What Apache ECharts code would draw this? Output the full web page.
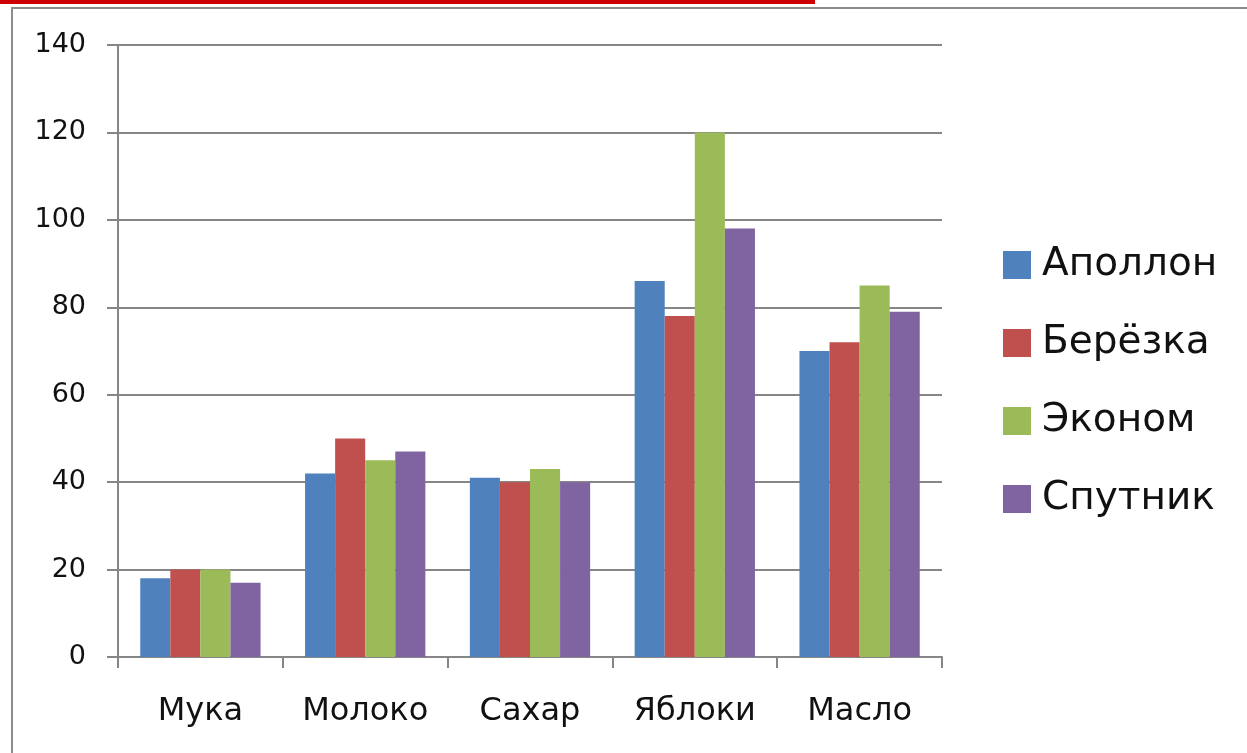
<!DOCTYPE html>
<html>
<head>
<meta charset="utf-8">
<script src="https://cdn.jsdelivr.net/npm/echarts@6/dist/echarts.min.js"></script>
<style>
  html, body { margin: 0; padding: 0; background: #ffffff; }
  #wrap { position: relative; width: 1247px; height: 753px; overflow: hidden; background: #fff; }
  #chart { position: absolute; left: 0; top: 0; width: 1247px; height: 753px; }
  #redbar { position: absolute; left: 0; top: 0; width: 815px; height: 4px; background: #cc0000; }
  #frame { position: absolute; left: 11px; top: 7px; width: 1240px; height: 760px;
           border-left: 2px solid #8c8c8c; border-top: 2px solid #8c8c8c; pointer-events: none; }
</style>
</head>
<body>
<div id="wrap">
  <div id="chart"></div>
  <div id="frame"></div>
  <div id="redbar"></div>
</div>
<script>
const categories = ['Мука', 'Молоко', 'Сахар', 'Яблоки', 'Масло'];
const seriesNames = ['Аполлон', 'Берёзка', 'Эконом', 'Спутник'];
const apollon = [18, 42, 41, 86, 70];
const berezka = [20, 50, 40, 78, 72];
const ekonom  = [20, 45, 43, 120, 85];
const sputnik = [17, 47, 40, 98, 79];
const colors = ['#4F81BD', '#C0504D', '#9BBB59', '#8064A2'];
const yTicks = { min: 0, max: 140, interval: 20 };

const values = [apollon, berezka, ekonom, sputnik];
const chart = echarts.init(document.getElementById('chart'), null, { renderer: 'canvas' });
const gray = '#868686';

chart.setOption({
  animation: false,
  backgroundColor: 'transparent',
  color: colors,
  grid: { left: 118, right: 305, top: 45, bottom: 96, containLabel: false },
  legend: {
    orient: 'vertical',
    left: 998,
    top: 240,
    itemWidth: 28,
    itemHeight: 28,
    itemGap: 38,
    icon: 'rect',
    textStyle: { fontFamily: 'DejaVu Sans', fontSize: 39, color: '#111111', lineHeight: 40, padding: [0, 0, 0, 6] },
    data: seriesNames
  },
  xAxis: {
    type: 'category',
    data: categories,
    axisLine: { show: true, lineStyle: { color: gray, width: 2 } },
    axisTick: { show: true, length: 11, lineStyle: { color: gray, width: 2 } },
    axisLabel: { margin: 39, fontFamily: 'DejaVu Sans', fontSize: 32, color: '#111111' },
    splitLine: { show: false }
  },
  yAxis: {
    type: 'value',
    min: yTicks.min,
    max: yTicks.max,
    interval: yTicks.interval,
    axisLine: { show: true, lineStyle: { color: gray, width: 2 } },
    axisTick: { show: true, length: 11, lineStyle: { color: gray, width: 2 } },
    axisLabel: { margin: 32, fontFamily: 'DejaVu Sans', fontSize: 27, color: '#111111' },
    splitLine: { show: true, lineStyle: { color: gray, width: 2 } }
  },
  series: seriesNames.map((name, i) => ({
    name: name,
    type: 'bar',
    data: values[i],
    barGap: '0%',
    barCategoryGap: '27%',
    itemStyle: { color: colors[i] }
  }))
});
</script>
</body>
</html>
